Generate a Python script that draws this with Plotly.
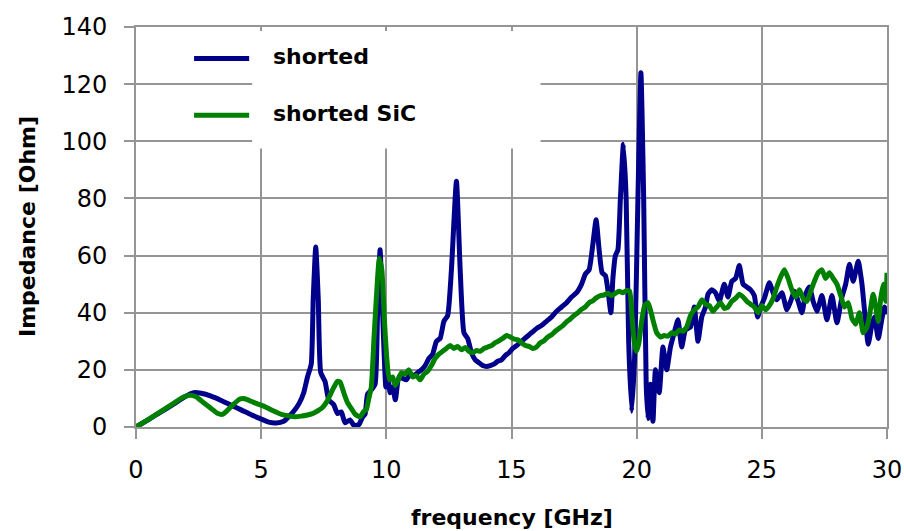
import plotly.graph_objects as go

# shorted line: frequency [GHz] and impedance [Ohm]
freq_shorted = [
    0.0, 0.5, 1.0, 1.5, 2.0, 2.3, 2.6, 3.0, 3.4, 3.8, 4.2, 4.6, 5.0, 5.3, 5.6, 5.9,
    6.1, 6.3, 6.5, 6.7, 6.85, 7.0, 7.08, 7.18, 7.28, 7.38, 7.55, 7.7, 7.9, 8.05, 8.2,
    8.35, 8.55, 8.7, 8.9, 9.05, 9.15, 9.25, 9.4, 9.55, 9.65, 9.75, 9.85, 9.98, 10.05,
    10.15, 10.25, 10.36, 10.5, 10.65, 10.8, 10.95, 11.1, 11.25, 11.4, 11.55, 11.7,
    11.85, 12.0, 12.15, 12.3, 12.45, 12.6, 12.8, 12.95, 13.1, 13.25, 13.4, 13.55,
    13.7, 13.85, 14.0, 14.15, 14.3, 14.45, 14.6, 14.75, 14.9, 15.05, 15.2, 15.4,
    15.6, 15.8, 16.0, 16.2, 16.4, 16.6, 16.8, 17.0, 17.2, 17.4, 17.6, 17.8, 17.95,
    18.1, 18.25, 18.38, 18.5, 18.62, 18.75, 18.85, 18.97, 19.05, 19.15, 19.25, 19.35,
    19.47, 19.58, 19.68, 19.8, 19.92, 20.05, 20.17, 20.28, 20.38, 20.45, 20.55, 20.65,
    20.75, 20.9, 21.05, 21.2, 21.35, 21.5, 21.65, 21.8, 21.95, 22.15, 22.3, 22.45,
    22.6, 22.75, 22.85, 23.0, 23.15, 23.3, 23.5, 23.65, 23.8, 23.95, 24.1, 24.25,
    24.4, 24.55, 24.7, 24.83, 24.95, 25.1, 25.3, 25.45, 25.6, 25.8, 26.0, 26.15,
    26.3, 26.45, 26.6, 26.75, 26.9, 27.05, 27.2, 27.4, 27.6, 27.8, 28.0, 28.2, 28.35,
    28.5, 28.65, 28.85, 29.0, 29.1, 29.25, 29.4, 29.5, 29.65, 29.8, 29.9, 30.0,
]
z_shorted = [
    0.0, 2.6, 5.3, 8.0, 10.8, 12.0, 11.8, 10.8, 9.3, 7.6, 6.0, 4.3, 2.8, 1.7, 1.4, 2.0,
    3.6, 5.5, 8.0, 12.0, 17.5, 22.0, 45.0, 63.0, 45.0, 19.0, 16.0, 9.5, 7.8, 4.7, 5.3,
    1.5, 2.5, 0.6, 0.8, 3.5, 4.5, 11.5, 13.0, 15.0, 40.0, 62.0, 40.0, 14.0, 19.0,
    12.0, 14.0, 9.5, 17.5, 17.0, 16.5, 18.5, 18.0, 19.0, 20.0, 21.5, 24.0,
    25.5, 30.0, 31.0, 37.0, 39.0, 55.0, 86.0, 55.0, 33.0, 31.0, 26.0, 23.5,
    22.5, 21.5, 21.2, 21.5, 22.0, 23.0, 23.5, 25.0, 26.0, 27.5, 28.5, 30.0,
    31.5, 33.0, 34.5, 35.5, 37.0, 38.5, 40.5, 42.0, 43.5, 45.5, 47.0, 50.0, 53.5,
    55.0, 64.0, 72.5, 62.0, 54.0, 53.0, 48.0, 40.0, 52.0, 60.0, 62.0, 80.0,
    99.0, 80.0, 30.0, 5.5, 25.0, 80.0, 124.0, 80.0, 15.0, 3.0, 15.0, 2.0,
    20.0, 12.0, 28.0, 20.0, 28.0, 33.0, 37.5, 28.0, 34.0, 35.0, 42.0, 30.0,
    38.5, 42.0, 46.5, 48.0, 47.0, 44.0, 50.0, 45.5, 51.0, 52.0, 56.5, 50.0,
    49.0, 48.0, 46.0, 38.5, 42.0, 45.0, 50.5, 47.0, 44.5, 47.0, 41.0, 44.0,
    47.5, 44.0, 40.0, 46.5, 49.0, 44.0, 40.5, 46.0, 37.5, 46.0, 36.5, 45.5, 50.0,
    57.0, 51.0, 58.0, 50.0, 41.0, 29.0, 36.0, 38.5, 31.0, 38.0, 42.0, 39.5,
]

# shorted SiC line: frequency [GHz] and impedance [Ohm]
freq_sic = [
    0.0, 0.5, 1.0, 1.5, 1.9, 2.15, 2.4, 2.7, 3.0, 3.25, 3.45, 3.65, 3.9, 4.15, 4.35,
    4.6, 4.85, 5.1, 5.35, 5.6, 5.85, 6.1, 6.35, 6.6, 6.85, 7.05, 7.25, 7.45, 7.65,
    7.85, 8.05, 8.15, 8.3, 8.45, 8.6, 8.75, 8.95, 9.1, 9.2, 9.3, 9.4, 9.5, 9.6, 9.72,
    9.82, 9.92, 10.02, 10.12, 10.25, 10.36, 10.5, 10.6, 10.75, 10.9, 11.05, 11.2,
    11.35, 11.5, 11.65, 11.8, 11.95, 12.1, 12.25, 12.4, 12.55, 12.7, 12.85, 13.0,
    13.15, 13.3, 13.45, 13.6, 13.75, 13.9, 14.05, 14.2, 14.35, 14.5, 14.65, 14.8,
    14.95, 15.1, 15.25, 15.4, 15.55, 15.7, 15.85, 16.0, 16.15, 16.3, 16.45, 16.6,
    16.75, 16.9, 17.05, 17.2, 17.35, 17.5, 17.65, 17.8, 17.95, 18.1, 18.25, 18.4,
    18.55, 18.7, 18.85, 19.0, 19.15, 19.3, 19.45, 19.6, 19.72, 19.82, 19.9, 19.98,
    20.08, 20.2, 20.32, 20.45, 20.55, 20.65, 20.8, 20.95, 21.1, 21.25, 21.4, 21.55,
    21.7, 21.85, 22.0, 22.15, 22.3, 22.45, 22.6, 22.75, 22.9, 23.05, 23.2, 23.35,
    23.5, 23.65, 23.8, 23.95, 24.1, 24.25, 24.4, 24.55, 24.7, 24.85, 25.0, 25.15,
    25.3, 25.45, 25.6, 25.75, 25.9, 26.05, 26.2, 26.35, 26.5, 26.65, 26.8, 26.95,
    27.1, 27.25, 27.4, 27.55, 27.7, 27.85, 28.0, 28.15, 28.3, 28.45, 28.6, 28.75,
    28.9, 29.05, 29.2, 29.3, 29.45, 29.55, 29.65, 29.75, 29.85, 29.95, 30.0,
]
z_sic = [
    0.0, 2.7, 5.5, 8.3, 10.5, 11.1, 10.6, 8.5, 6.5, 4.8, 4.4, 5.8, 8.0, 9.8, 9.9,
    9.0, 8.1, 7.3, 6.2, 5.2, 4.3, 3.9, 3.6, 3.8, 4.2, 4.7, 5.6, 6.8, 9.3,
    13.0, 16.0, 15.8, 12.0, 8.5, 6.5, 4.5, 3.5, 5.5, 6.0, 10.0, 14.0, 30.0, 45.0, 59.0,
    55.0, 38.0, 24.0, 16.5, 17.5, 14.5, 17.0, 19.0, 18.5, 20.0, 17.5, 18.0,
    16.5, 18.5, 19.5, 21.5, 24.0, 25.5, 26.5, 27.5, 28.5, 27.5, 28.2, 27.0,
    27.8, 26.5, 26.0, 26.8, 26.5, 27.5, 28.0, 28.5, 29.5, 30.2, 31.0, 32.0,
    31.5, 30.8, 30.5, 29.5, 28.5, 28.2, 27.5, 28.0, 29.5, 30.2, 31.5, 32.3,
    33.5, 34.5, 35.5, 36.8, 37.8, 39.0, 40.0, 41.2, 42.0, 43.5, 44.2, 45.3,
    46.0, 46.2, 46.8, 46.0, 46.8, 47.5, 47.0, 47.8, 47.5, 38.0, 30.0, 26.5,
    29.0, 37.0, 42.5, 43.5, 41.0, 37.5, 33.0, 31.5, 32.0, 31.8, 33.0, 32.5,
    34.0, 33.5, 35.0, 39.0, 41.0, 42.0, 44.5, 43.0, 42.5, 40.5, 42.0, 43.5,
    41.5, 42.0, 44.0, 45.0, 46.5, 45.5, 44.0, 43.0, 42.0, 40.0, 42.5, 41.0,
    42.5, 45.0, 49.0, 52.5, 55.0, 52.0, 48.0, 45.5, 48.0, 45.0, 44.0, 47.5,
    51.0, 54.0, 55.0, 52.0, 54.0, 52.0, 50.0, 46.0, 42.0, 43.5, 38.0, 36.0,
    40.0, 33.0, 35.0, 39.0, 46.5, 42.0, 37.0, 45.0, 50.0, 44.0, 54.0,
]

x_ticks = [0, 5, 10, 15, 20, 25, 30]
y_ticks = [0, 20, 40, 60, 80, 100, 120, 140]

series_names = ["shorted", "shorted SiC"]
series_colors = ["#00008B", "#008000"]

FONT = "DejaVu Sans"
GRID = "#959595"

fig = go.Figure()
fig.add_trace(go.Scatter(x=freq_shorted, y=z_shorted, mode="lines", name=series_names[0],
                         line=dict(color=series_colors[0], width=5, shape="spline", smoothing=0.5),
                         showlegend=False))
fig.add_trace(go.Scatter(x=freq_sic, y=z_sic, mode="lines", name=series_names[1],
                         line=dict(color=series_colors[1], width=5, shape="spline", smoothing=0.5),
                         showlegend=False))

axis_common = dict(
    showgrid=True, gridcolor=GRID, gridwidth=1.6,
    showline=True, linecolor=GRID, linewidth=1.6, mirror=True,
    ticks="outside", ticklen=10, tickwidth=1.6, tickcolor=GRID,
    zeroline=False, tickfont=dict(family=FONT, size=24, color="black"),
)
fig.update_xaxes(range=[0, 30], tickvals=x_ticks, ticklabelstandoff=10, **axis_common)
fig.update_yaxes(range=[0, 140], tickvals=y_ticks, ticklabelstandoff=12, **axis_common)

# white legend panel covering the grid behind the key
fig.add_shape(type="rect", xref="x", yref="y", x0=4.64, x1=16.16, y0=97.5, y1=138.6,
              fillcolor="white", line=dict(width=0), layer="between")

# legend key: line sample plus label for each series
for name, color, ky in zip(series_names, series_colors, [129.0, 109.1]):
    fig.add_shape(type="line", xref="x", yref="y", x0=2.32, x1=4.52, y0=ky, y1=ky,
                  line=dict(color=color, width=5), layer="above")
    fig.add_annotation(x=5.4, y=ky + 0.7, xref="x", yref="y", text=f"<b>{name}</b>",
                       showarrow=False, xanchor="left", yanchor="middle",
                       font=dict(family=FONT, size=22, color="black"))

# axis titles
fig.add_annotation(x=0.5, y=0, xref="paper", yref="paper", yshift=-76,
                   text="<b>frequency [GHz]</b>", showarrow=False,
                   xanchor="center", yanchor="top",
                   font=dict(family=FONT, size=22, color="black"))
fig.add_annotation(x=-0.1451, y=0.5, xref="paper", yref="paper",
                   text="<b>Impedance [Ohm]</b>", showarrow=False, textangle=-90,
                   xanchor="center", yanchor="middle",
                   font=dict(family=FONT, size=22, color="black"))

fig.update_layout(
    width=904, height=531,
    margin=dict(l=136, r=17, t=27, b=104, autoexpand=False),
    paper_bgcolor="white", plot_bgcolor="white",
    showlegend=False,
)

fig.write_html("out.html")
